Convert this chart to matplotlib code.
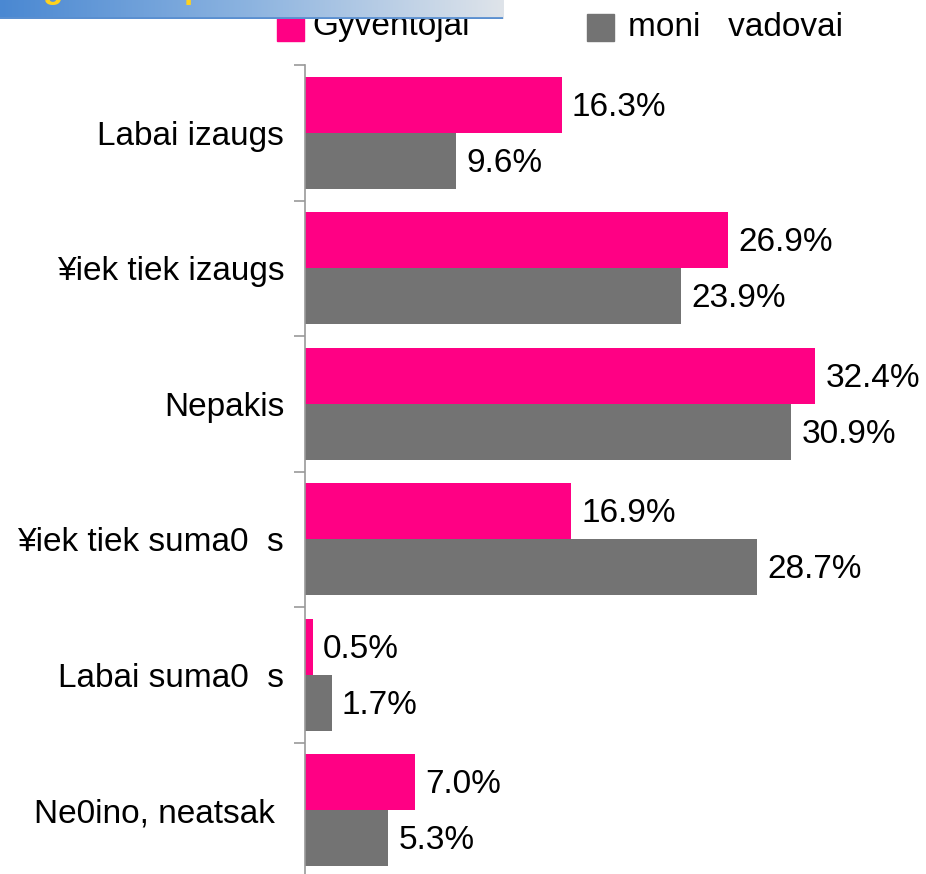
import numpy as np
from matplotlib import pyplot as plt
from matplotlib.colors import LinearSegmentedColormap
from matplotlib.patches import Rectangle

plt.rcParams['font.family'] = ['Liberation Sans', 'DejaVu Sans']

categories = ["Labai izaugs", "¥iek tiek izaugs", "Nepakis", "¥iek tiek suma0  s",
              "Labai suma0  s", "Ne0ino, neatsak "]
gyventojai = [16.3, 26.9, 32.4, 16.9, 0.5, 7.0]
vadovai = [9.6, 23.9, 30.9, 28.7, 1.7, 5.3]
series_names = ["Gyventojai", "moni   vadovai"]

pink = "#FF0084"
gray = "#737373"

W, H = 926, 874
fig = plt.figure(figsize=(W / 100, H / 100), dpi=100)

# main axes: x from 305 px to right edge, y from 65 px to 878 px
ax = fig.add_axes([305 / W, (H - 878) / H, 1 - 305 / W, (878 - 65) / H])
n = len(categories)
y = np.arange(n)
bh = 0.413
ax.barh(y - bh / 2, gyventojai, height=bh, color=pink)
ax.barh(y + bh / 2, vadovai, height=bh, color=gray)

for yi, v in zip(y, gyventojai):
    ax.text(v + 0.65, yi - bh / 2 + 0.02, f"{v:.1f}%", va="center", ha="left", fontsize=24)
for yi, v in zip(y, vadovai):
    ax.text(v + 0.65, yi + bh / 2 + 0.02, f"{v:.1f}%", va="center", ha="left", fontsize=24)

ax.set_xlim(0, (W - 305) / 15.74)
ax.set_ylim(n - 0.5, -0.5)
ax.set_yticks(y)
ax.set_yticklabels(categories, fontsize=24)
ax.set_yticks(np.arange(n + 1) - 0.5, minor=True)
ax.tick_params(axis="y", which="major", length=0, pad=15)
ax.tick_params(axis="y", which="minor", length=8, color="#999999", width=1.2)
ax.set_xticks([])
for s in ["top", "right", "bottom"]:
    ax.spines[s].set_visible(False)
ax.spines["left"].set_color("#999999")
ax.spines["left"].set_linewidth(1.2)

# legend drawn as figure patches/text
fig.patches.append(Rectangle((277 / W, 1 - 41 / H), 27 / W, 27 / H, transform=fig.transFigure, color=pink))
fig.text(312 / W, 1 - 27 / H, series_names[0], fontsize=24, va="center", ha="left")
fig.patches.append(Rectangle((587 / W, 1 - 41 / H), 27 / W, 27 / H, transform=fig.transFigure, color=gray))
fig.text(628 / W, 1 - 27 / H, series_names[1], fontsize=24, va="center", ha="left")

# cut-off title banner at top left, drawn over the legend
bax = fig.add_axes([0, 1 - 19 / H, 503 / W, 19 / H])
bax.set_zorder(10)
cmap = LinearSegmentedColormap.from_list("ban", ["#4a88d2", "#8db4e0", "#dfe4ea"])
bax.imshow(np.linspace(0, 1, 256).reshape(1, -1), aspect="auto", cmap=cmap, extent=[0, 1, 0, 1])
bax.axhline(0.05, color="#5a8fd0", lw=2)
bax.text(0.085, 1.12, "g", color="#FFD21E", fontsize=24, fontweight="bold", va="baseline", clip_on=True)
bax.text(0.365, 1.12, "p", color="#FFD21E", fontsize=24, fontweight="bold", va="baseline", clip_on=True)
bax.set_xlim(0, 1)
bax.set_ylim(0, 1)
bax.axis("off")

fig.savefig("out.png", dpi=100)
